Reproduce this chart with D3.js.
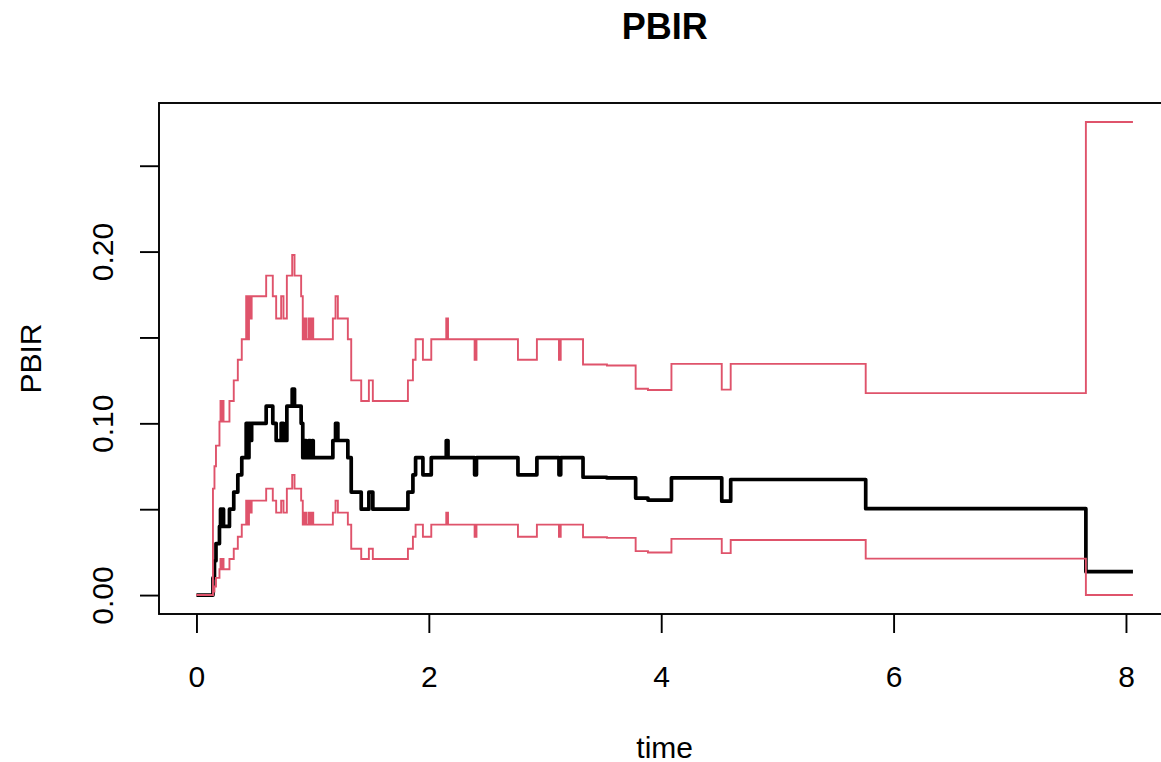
<!DOCTYPE html>
<meta charset="utf-8">
<style>
body { margin: 0; background: #fff; }
text { font-family: "Liberation Sans", Arial, sans-serif; fill: #000; }
.est { fill: none; stroke: #000; stroke-width: 3.7; stroke-linejoin: round; }
.ci { fill: none; stroke: #DF536B; stroke-width: 1.9; }
.axis path, .axis line { stroke: #000; stroke-width: 1.9; }
</style>
<svg width="1161" height="762"></svg>
<script src="https://d3js.org/d3.v7.min.js"></script>
<script>

var svg = d3.select("svg");

// event times and step values
var times = [0, 0.142, 0.155, 0.168, 0.198, 0.207, 0.216, 0.225, 0.233, 0.284,
  0.321, 0.356, 0.39, 0.428, 0.44, 0.452, 0.462, 0.475, 0.6, 0.657,
  0.686, 0.729, 0.749, 0.778, 0.824, 0.844, 0.901, 0.915, 0.93, 0.945,
  0.965, 0.98, 0.995, 1.005, 1.174, 1.197, 1.217, 1.303, 1.332, 1.418,
  1.484, 1.518, 1.82, 1.863, 1.886, 1.949, 2.021, 2.15, 2.165, 2.394,
  2.41, 2.767, 2.93, 3.12, 3.135, 3.327, 3.533, 3.78, 3.886, 4.088,
  4.521, 4.598, 5.76, 7.655, 8.06];

var pbir = [0, 0.01, 0.02, 0.03, 0.04, 0.05, 0.04, 0.05, 0.04, 0.05,
  0.06, 0.07, 0.08, 0.10, 0.08, 0.10, 0.09, 0.10, 0.11, 0.10,
  0.09, 0.10, 0.09, 0.11, 0.12, 0.11, 0.10, 0.08, 0.09, 0.08,
  0.09, 0.08, 0.09, 0.08, 0.09, 0.10, 0.09, 0.08, 0.06, 0.05,
  0.06, 0.05, 0.06, 0.07, 0.08, 0.07, 0.08, 0.09, 0.08, 0.07,
  0.08, 0.07, 0.08, 0.07, 0.08, 0.0686, 0.0682, 0.0565, 0.0553, 0.0683,
  0.0547, 0.0673, 0.0503, 0.0136, 0.0136];

var upper = [0, 0.062, 0.075, 0.087, 0.101, 0.113, 0.101, 0.113, 0.101, 0.113,
  0.125, 0.137, 0.149, 0.174, 0.149, 0.174, 0.161, 0.174, 0.186, 0.174,
  0.161, 0.174, 0.161, 0.186, 0.198, 0.186, 0.174, 0.149, 0.161, 0.149,
  0.161, 0.149, 0.161, 0.149, 0.161, 0.174, 0.161, 0.149, 0.125, 0.113,
  0.125, 0.113, 0.125, 0.137, 0.149, 0.137, 0.149, 0.161, 0.149, 0.137,
  0.149, 0.137, 0.149, 0.137, 0.149, 0.1343, 0.1337, 0.1201, 0.1194, 0.1346,
  0.1196, 0.1346, 0.1176, 0.2755, 0.2755];

var lower = [0, 0.002, 0.005, 0.010, 0.015, 0.021, 0.015, 0.021, 0.015, 0.021,
  0.027, 0.034, 0.041, 0.055, 0.041, 0.055, 0.048, 0.055, 0.062, 0.055,
  0.048, 0.055, 0.048, 0.062, 0.070, 0.062, 0.055, 0.041, 0.048, 0.041,
  0.048, 0.041, 0.048, 0.041, 0.048, 0.055, 0.048, 0.041, 0.027, 0.021,
  0.027, 0.021, 0.027, 0.034, 0.041, 0.034, 0.041, 0.048, 0.041, 0.034,
  0.041, 0.034, 0.041, 0.034, 0.041, 0.0337, 0.0333, 0.0256, 0.0248, 0.0327,
  0.0244, 0.0321, 0.0212, 0, 0];

var xTicks = [0, 2, 4, 6, 8];
var yTicks = [0, 0.05, 0.10, 0.15, 0.20, 0.25];
var yLabels = ["0.00", "", "0.10", "", "0.20", ""];

// plot region, R style 4% padding on the data range
var plotLeft = 159, plotRight = 1170.4, plotTop = 103, plotBottom = 614;
var tMax = d3.max(times), yMax = d3.max(upper);

var x = d3.scaleLinear()
    .domain([-0.04 * tMax, tMax * 1.04])
    .range([plotLeft, plotRight]);

var y = d3.scaleLinear()
    .domain([-0.04 * yMax, yMax * 1.04])
    .range([plotBottom, plotTop]);

var step = d3.line()
    .x(function(d) { return x(d[0]); })
    .y(function(d) { return y(d[1]); })
    .curve(d3.curveStepAfter);

function pairs(vals) {
  return times.map(function(t, i) { return [t, vals[i]]; });
}

svg.append("path")
    .datum(pairs(pbir))
    .attr("class", "est")
    .attr("d", step);

svg.selectAll(".ci")
  .data([upper, lower])
  .enter().append("path")
    .attr("class", "ci")
    .attr("d", function(d) { return step(pairs(d)); });

// box
svg.append("rect")
    .attr("x", plotLeft)
    .attr("y", plotTop)
    .attr("width", plotRight - plotLeft)
    .attr("height", plotBottom - plotTop)
    .attr("fill", "none")
    .attr("stroke", "#000")
    .attr("stroke-width", 1.9);

var gx = svg.append("g")
    .attr("class", "axis")
    .attr("transform", "translate(0," + plotBottom + ")")
    .call(d3.axisBottom(x).tickValues(xTicks).tickSize(19).tickPadding(0).tickFormat(d3.format("d")));
gx.select(".domain").remove();
gx.selectAll("text")
    .attr("y", 73)
    .attr("dy", null)
    .attr("font-size", 30);

var gy = svg.append("g")
    .attr("class", "axis")
    .attr("transform", "translate(" + plotLeft + ",0)")
    .call(d3.axisLeft(y).tickValues(yTicks).tickSize(19).tickFormat(function(d, i) { return yLabels[i]; }));
gy.select(".domain").remove();
gy.selectAll("text")
    .attr("x", null)
    .attr("dy", null)
    .attr("font-size", 30)
    .attr("text-anchor", "middle")
    .attr("transform", "translate(-46,0) rotate(-90)")
    .attr("y", 0);

svg.append("text")
    .attr("x", (plotLeft + plotRight) / 2)
    .attr("y", 39)
    .attr("text-anchor", "middle")
    .attr("font-size", 36)
    .attr("font-weight", "bold")
    .text("PBIR");

svg.append("text")
    .attr("x", (plotLeft + plotRight) / 2)
    .attr("y", 758)
    .attr("text-anchor", "middle")
    .attr("font-size", 30)
    .text("time");

svg.append("text")
    .attr("transform", "translate(41," + (plotTop + plotBottom) / 2 + ") rotate(-90)")
    .attr("text-anchor", "middle")
    .attr("font-size", 30)
    .text("PBIR");

</script>
